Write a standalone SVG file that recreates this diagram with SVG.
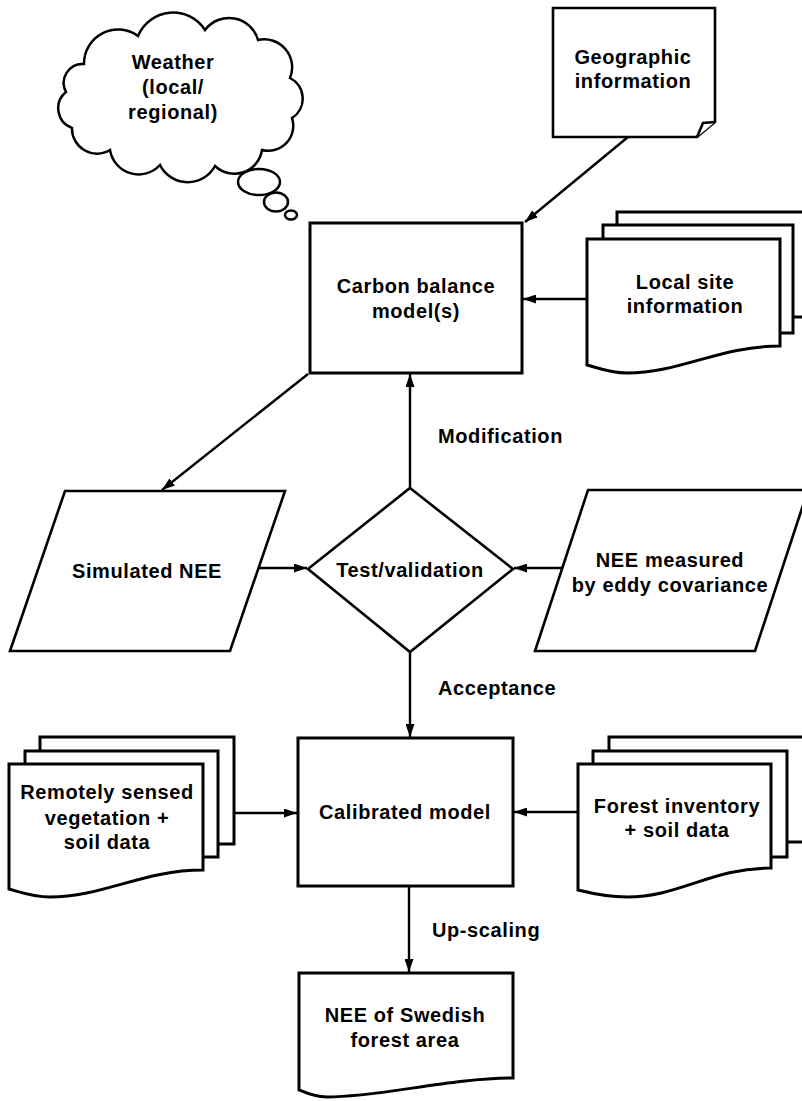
<svg xmlns="http://www.w3.org/2000/svg" width="802" height="1101" viewBox="0 0 802 1101">
<defs>
<style>
.t{font-family:"Liberation Sans",Arial,sans-serif;font-weight:bold;font-size:20px;letter-spacing:0.6px;fill:#000;}
.m{text-anchor:middle;}
.box{fill:#fff;stroke:#000;stroke-width:3;stroke-linejoin:miter;}
.shp{fill:#fff;stroke:#000;stroke-width:2.6;stroke-linejoin:miter;}
.cl{fill:#fff;stroke:#000;stroke-width:2.5;}
.ln{fill:none;stroke:#000;stroke-width:2.4;marker-end:url(#ah);}
</style>
<marker id="ah" markerUnits="userSpaceOnUse" viewBox="0 0 13 9" markerWidth="13" markerHeight="9" refX="13" refY="4.5" orient="auto">
<path d="M0,0 L13,4.5 L0,9 Z" fill="#000"/>
</marker>
</defs>
<rect width="802" height="1101" fill="#fff"/>

<g id="weather">
<path class="cl" d="M84,64 A34,34 0 0 1 138,36 A38,38 0 0 1 205,30 A30,30 0 0 1 258,40 A28,28 0 0 1 290,78 A23,23 0 0 1 292,118 A25,25 0 0 1 262,150 A28,28 0 0 1 215,166 A31,31 0 0 1 160,165 A29,29 0 0 1 110,150 A25,25 0 0 1 72,128 A21,21 0 0 1 66,92 A19,19 0 0 1 84,64 Z"/>
<ellipse class="cl" cx="259" cy="182" rx="21" ry="13"/>
<ellipse class="cl" cx="276" cy="202" rx="12" ry="9.5"/>
<ellipse class="cl" cx="291" cy="215" rx="6" ry="4.5"/>
<text class="t m" x="173" y="69">Weather</text>
<text class="t m" x="173" y="94">(local/</text>
<text class="t m" x="173" y="119">regional)</text>
</g>

<g id="geographic">
<path class="shp" d="M553,8 H715 V122 L697,137 H553 Z"/>
<path class="shp" d="M697,137 L703,123 L715,122" fill="none"/>
<text class="t m" x="633" y="64">Geographic</text>
<text class="t m" x="633" y="88">information</text>
</g>

<g id="carbon">
<rect class="box" x="310" y="223" width="212" height="150"/>
<text class="t m" x="416" y="293">Carbon balance</text>
<text class="t m" x="416" y="318">model(s)</text>
</g>

<g id="localsite">
<rect class="box" x="617" y="212" width="191" height="105"/>
<rect class="box" x="603" y="225" width="190" height="108"/>
<path class="box" d="M587,239 H780 V346 C720,346 680,373 627,373 C610,373 598,368 587,365 Z"/>
<text class="t m" x="685" y="289">Local site</text>
<text class="t m" x="685" y="313">information</text>
</g>

<g id="simulated">
<path class="shp" d="M65,491 H285 L230,651 H10 Z"/>
<text class="t m" x="147" y="578">Simulated NEE</text>
</g>

<g id="test">
<path class="shp" d="M410,488 L513,569 L410,652 L308,569 Z"/>
<text class="t m" x="410" y="577">Test/validation</text>
</g>

<g id="measured">
<path class="shp" d="M588,490 H808 L755,651 H535 Z"/>
<text class="t m" x="670" y="567">NEE measured</text>
<text class="t m" x="670" y="592">by eddy covariance</text>
</g>

<g id="remote">
<rect class="box" x="40" y="737" width="194" height="107"/>
<rect class="box" x="25" y="751" width="193" height="106"/>
<path class="box" d="M9,764 H203 V870 C143,870 103,897 50,897 C33,897 20,892 9,889 Z"/>
<text class="t m" x="107" y="799">Remotely sensed</text>
<text class="t m" x="107" y="825">vegetation +</text>
<text class="t m" x="107" y="849">soil data</text>
</g>

<g id="calibrated">
<rect class="box" x="298" y="738" width="215" height="148"/>
<text class="t m" x="405" y="819">Calibrated model</text>
</g>

<g id="forest">
<rect class="box" x="609" y="737" width="199" height="105"/>
<rect class="box" x="593" y="751" width="194" height="106"/>
<path class="box" d="M578,764 H771 V868 C711,868 680,897 627,897 C610,897 590,893 578,890 Z"/>
<text class="t m" x="677" y="813">Forest inventory</text>
<text class="t m" x="677" y="837">+ soil data</text>
</g>

<g id="swedish">
<path class="box" d="M299,973 H513 V1078 C450,1078 380,1097 327,1097 C315,1097 306,1093 299,1090 Z"/>
<text class="t m" x="405" y="1022">NEE of Swedish</text>
<text class="t m" x="405" y="1047">forest area</text>
</g>

<g id="connectors">
<line class="ln" x1="628" y1="137" x2="525" y2="222"/>
<line class="ln" x1="587" y1="299" x2="523" y2="299"/>
<line class="ln" x1="308" y1="374" x2="162" y2="490"/>
<line class="ln" x1="410" y1="488" x2="410" y2="374"/>
<line class="ln" x1="258" y1="568" x2="307" y2="568"/>
<line class="ln" x1="563" y1="568" x2="514" y2="568"/>
<line class="ln" x1="410" y1="652" x2="410" y2="737"/>
<line class="ln" x1="234" y1="813" x2="297" y2="813"/>
<line class="ln" x1="578" y1="812" x2="514" y2="812"/>
<line class="ln" x1="409" y1="887" x2="409" y2="972"/>
<text class="t" x="438" y="443">Modification</text>
<text class="t" x="438" y="695">Acceptance</text>
<text class="t" x="432" y="937">Up-scaling</text>
</g>
</svg>
